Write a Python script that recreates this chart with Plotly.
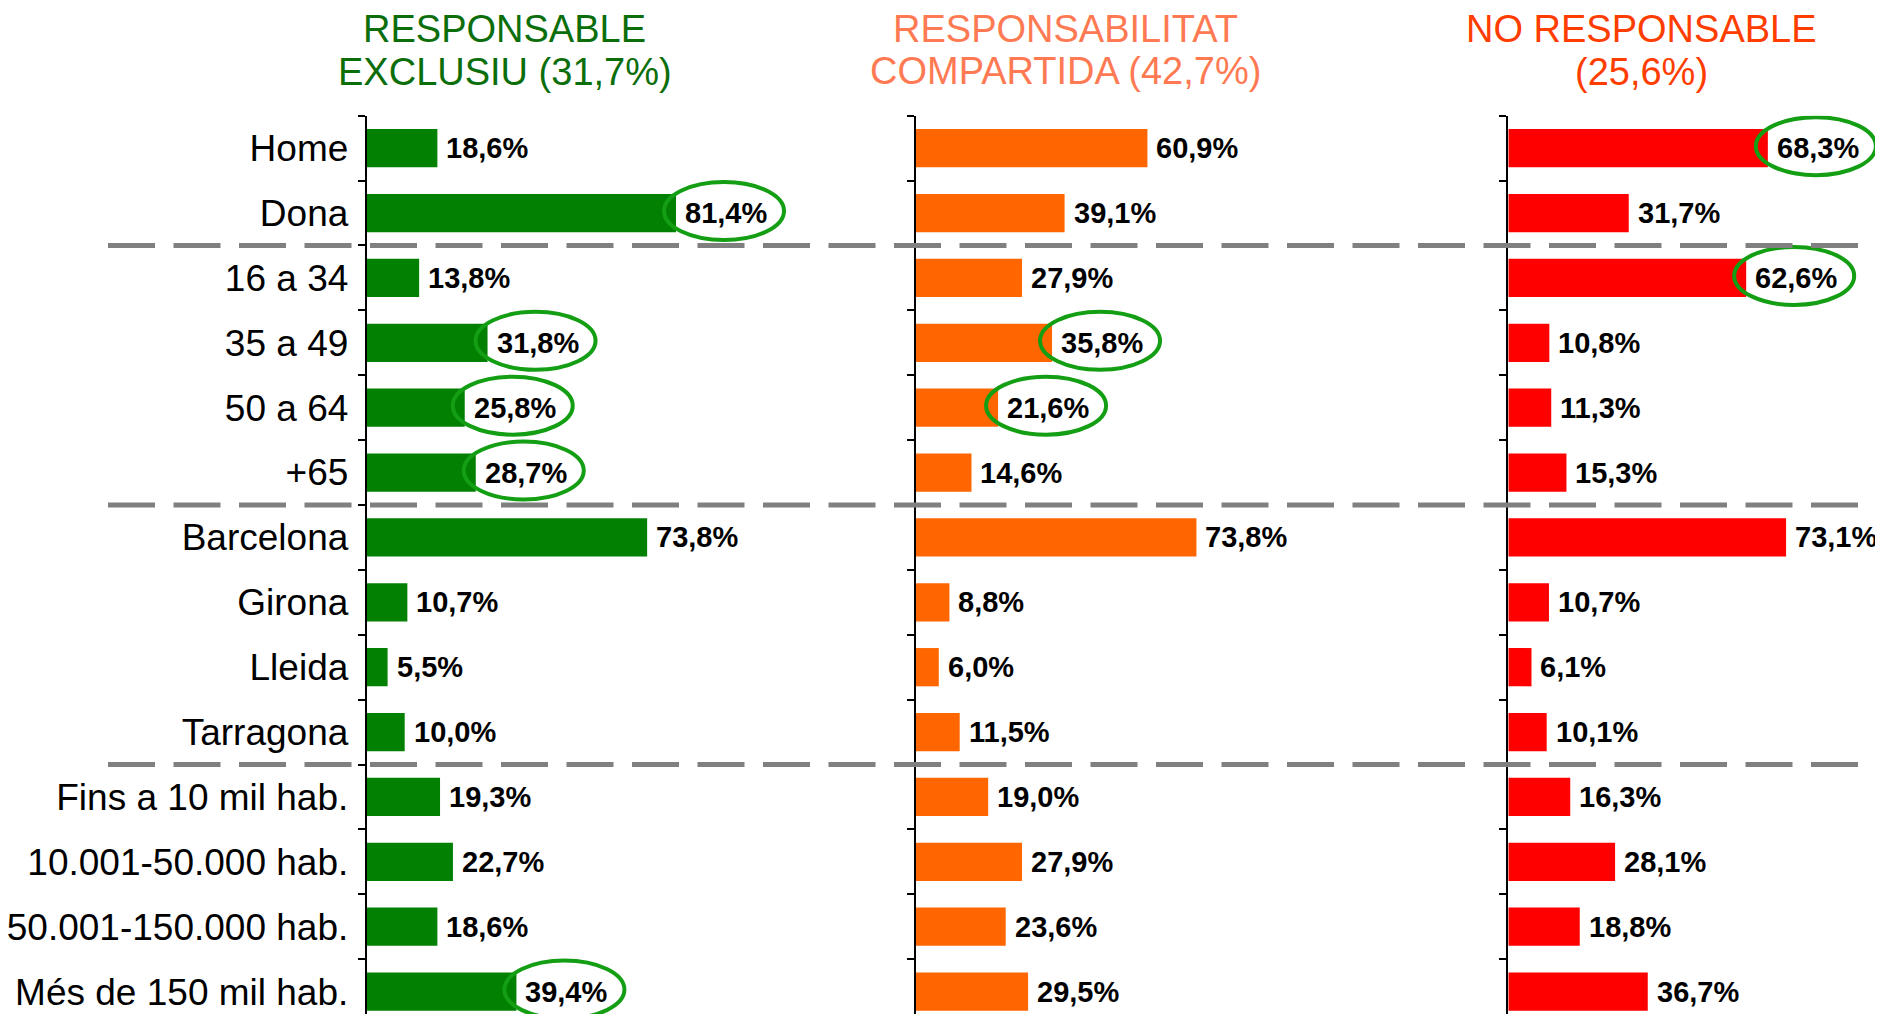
import plotly.graph_objects as go

# ---------------- data ----------------
categories = ["Home", "Dona", "16 a 34", "35 a 49", "50 a 64", "+65",
              "Barcelona", "Girona", "Lleida", "Tarragona",
              "Fins a 10 mil hab.", "10.001-50.000 hab.",
              "50.001-150.000 hab.", "Més de 150 mil hab."]
exclusiu = [18.6, 81.4, 13.8, 31.8, 25.8, 28.7, 73.8, 10.7, 5.5, 10.0, 19.3, 22.7, 18.6, 39.4]
compartida = [60.9, 39.1, 27.9, 35.8, 21.6, 14.6, 73.8, 8.8, 6.0, 11.5, 19.0, 27.9, 23.6, 29.5]
no_responsable = [68.3, 31.7, 62.6, 10.8, 11.3, 15.3, 73.1, 10.7, 6.1, 10.1, 16.3, 28.1, 18.8, 36.7]
highlight_exclusiu = ["Dona", "35 a 49", "50 a 64", "+65", "Més de 150 mil hab."]
highlight_compartida = ["35 a 49", "50 a 64"]
highlight_no_resp = ["Home", "16 a 34"]
group_breaks = ["Dona", "+65", "Tarragona"]  # dashed separator after these rows

titles = [["RESPONSABLE", "EXCLUSIU (31,7%)"],
          ["RESPONSABILITAT", "COMPARTIDA (42,7%)"],
          ["NO RESPONSABLE", "(25,6%)"]]

# ---------------- layout geometry (screen px) ----------------
W, H, OFF = 1874, 1006, 8
def fx(X):
    return (X - OFF) / W
def fy(Y):
    return 1 - (Y - OFF) / H

PX_PER_PCT = 3.8
axis_x = [366.7, 916.0, 1508.3]
panel_end = [916.0, 1508.3, W + OFF]
top_px, band = 115.7, 64.88
bottom_px = H + OFF
y_bottom_val = -0.5 + (bottom_px - top_px) / band

bar_colors = ["#028002", "#FF6600", "#FF0000"]
title_colors = ["#0B6E0B", "#FF7A52", "#FF3D00"]
title_x = [505, 1065, 1641]
title_y = [[28.5, 71.5], [28.5, 71], [28.5, 72]]
FONT = "Liberation Sans, Arial, sans-serif"

series = [exclusiu, compartida, no_responsable]
highlights = [highlight_exclusiu, highlight_compartida, highlight_no_resp]

fig = go.Figure()
annotations = []
shapes = []

for i in range(3):
    xa = "x" if i == 0 else f"x{i+1}"
    ya = "y" if i == 0 else f"y{i+1}"
    fig.add_trace(go.Bar(
        x=series[i], y=categories, orientation="h",
        xaxis=xa, yaxis=ya,
        marker=dict(color=bar_colors[i], line=dict(width=0)),
        hoverinfo="x+y",
    ))
    rng_max = (panel_end[i] - axis_x[i]) / PX_PER_PCT
    fig.layout[("xaxis" if i == 0 else f"xaxis{i+1}")] = dict(
        domain=[fx(axis_x[i]), min(1.0, fx(panel_end[i]))],
        range=[0, rng_max], visible=False, fixedrange=True,
        anchor=ya,
    )
    yax = dict(
        domain=[fy(bottom_px), fy(top_px)],
        type="category", categoryorder="array", categoryarray=categories,
        range=[y_bottom_val, -0.5],
        anchor=xa,
        showline=True, linecolor="black", linewidth=2,
        ticks="outside", tickson="boundaries", ticklen=7, tickwidth=1.5,
        tickcolor="black",
        showgrid=False, zeroline=False, fixedrange=True,
    )
    if i == 0:
        yax.update(showticklabels=True,
                   tickfont=dict(family=FONT, size=37, color="black"),
                   ticklabelstandoff=9)
    else:
        yax.update(showticklabels=False, matches="y")
    fig.layout[("yaxis" if i == 0 else f"yaxis{i+1}")] = yax

    # value labels (y given as category index so "+65" is not read as a number)
    for idx, v in enumerate(series[i]):
        annotations.append(dict(
            x=v, y=idx, xref=xa, yref=ya, xanchor="left", yanchor="middle",
            xshift=7, showarrow=False,
            text=f"{v:.1f}%".replace(".", ","),
            font=dict(family=FONT, size=29, color="black", weight="bold"),
        ))
    # highlight ellipses
    for cat in highlights[i]:
        idx = categories.index(cat)
        v = series[i][idx]
        shapes.append(dict(
            type="circle", xref=xa, yref=ya,
            xsizemode="pixel", ysizemode="pixel",
            xanchor=v, yanchor=idx,
            x0=-12, x1=108, y0=-27, y1=31,
            line=dict(color="#139E13", width=4), layer="above",
        ))
    # titles
    for k, line in enumerate(titles[i]):
        annotations.append(dict(
            x=fx(title_x[i]), y=fy(title_y[i][k]), xref="paper", yref="paper",
            xanchor="center", yanchor="middle", showarrow=False, text=line,
            font=dict(family=FONT, size=38, color=title_colors[i]),
        ))

# dashed separators between groups
for cat in group_breaks:
    idx = categories.index(cat)
    shapes.append(dict(
        type="line", xref="paper", yref="y",
        x0=fx(108), x1=fx(1865), y0=idx + 0.5, y1=idx + 0.5,
        line=dict(color="#808080", width=5, dash="47px,18.5px"),
        layer="above",
    ))

fig.update_layout(
    width=W, height=H,
    margin=dict(l=0, r=0, t=0, b=0, autoexpand=False),
    paper_bgcolor="white", plot_bgcolor="rgba(0,0,0,0)",
    showlegend=False, bargap=0.41,
    annotations=annotations, shapes=shapes,
    font=dict(family=FONT),
)

fig.write_html("out.html")
